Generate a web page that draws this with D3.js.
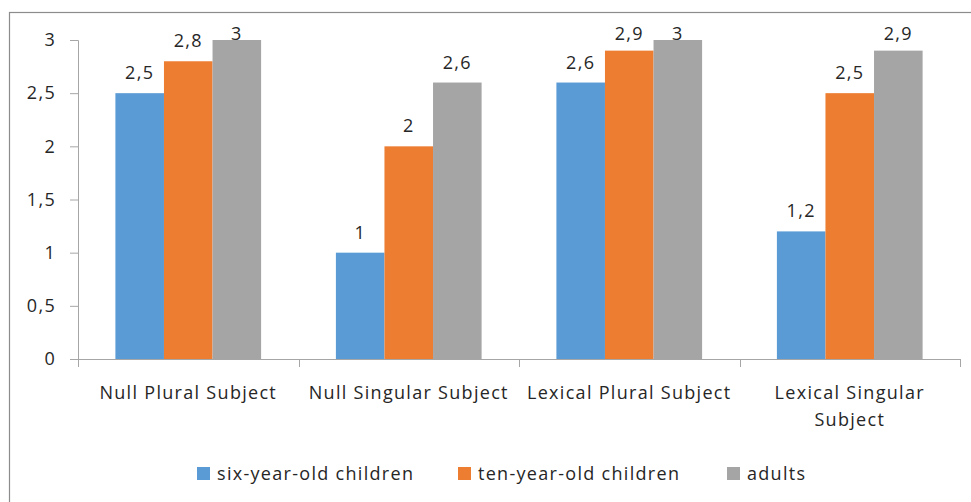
<!DOCTYPE html>
<html><head><meta charset="utf-8">
<script src="https://cdn.jsdelivr.net/npm/d3@7/dist/d3.min.js"></script>
<style>
body{margin:0;background:#fff;}
svg text{font-family:"Open Sans",sans-serif;fill:#262626;letter-spacing:1.3px;}
</style></head>
<body><svg id="c" width="971" height="502"></svg>
<script>
const categories = [["Null Plural Subject"], ["Null Singular Subject"], ["Lexical Plural Subject"], ["Lexical Singular", "Subject"]];
const seriesNames = ["six-year-old children", "ten-year-old children", "adults"];
const sixYear = [2.5, 1, 2.6, 1.2];
const tenYear = [2.8, 2, 2.9, 2.5];
const adults = [3, 2.6, 3, 2.9];
const yTicks = [0, 0.5, 1, 1.5, 2, 2.5, 3];
const colors = ["#5B9BD5", "#ED7D31", "#A5A5A5"];
const series = [sixYear, tenYear, adults];

const svg = d3.select("#c");
svg.append("rect").attr("x", 9.5).attr("y", 12.5).attr("width", 1000).attr("height", 600)
  .attr("fill", "none").attr("stroke", "#8c8c8c").attr("stroke-width", 1.2);

const mLeft = 78, mRight = 960, mTop = 40, mBottom = 359;
const FS = 18;
const x0 = d3.scaleBand().domain(d3.range(categories.length)).range([mLeft, mRight]).paddingInner(0).paddingOuter(0);
const x1 = d3.scaleBand().domain(d3.range(series.length)).range([0, x0.bandwidth()]).paddingInner(0).paddingOuter(0.77);
const y = d3.scaleLinear().domain([0, 3]).range([mBottom, mTop]);
const fmt = v => String(v).replace(".", ",");

// y axis
const ya = svg.append("g").attr("transform", `translate(${mLeft},0)`)
  .call(d3.axisLeft(y).tickValues(yTicks).tickFormat(fmt).tickSize(8).tickPadding(14));
ya.select(".domain").attr("stroke", "#a6a6a6").attr("d", `M-8,${mTop}.5H0.5V${mBottom}.5`);
ya.selectAll(".tick line").attr("stroke", "#a6a6a6");
ya.selectAll(".tick text").attr("font-size", FS).attr("fill", "#262626").style("font-family", "'Open Sans',sans-serif");

// bars
const g = svg.append("g");
series.forEach((s, si) => {
  g.selectAll(null).data(s).enter().append("rect")
    .attr("x", (d, i) => x0(i) + x1(si))
    .attr("y", d => y(d))
    .attr("width", x1.bandwidth())
    .attr("height", d => y(0) - y(d))
    .attr("fill", colors[si]);
  g.selectAll(null).data(s).enter().append("text")
    .attr("x", (d, i) => x0(i) + x1(si) + x1.bandwidth() / 2)
    .attr("y", d => Math.max(y(d) - 14, mTop))
    .attr("text-anchor", "middle").attr("font-size", FS)
    .text(d => fmt(d));
});

// x axis
const xa = svg.append("g").attr("transform", `translate(0,${mBottom})`);
xa.append("path").attr("d", `M${mLeft},0.5H${mRight}`).attr("stroke", "#a6a6a6").attr("fill", "none");
const tickXs = d3.range(categories.length + 1).map(i => i < categories.length ? x0(i) : mRight);
xa.selectAll(null).data(tickXs).enter().append("line")
  .attr("x1", d => Math.round(d) + 0.5).attr("x2", d => Math.round(d) + 0.5)
  .attr("y1", 0).attr("y2", 8).attr("stroke", "#a6a6a6");
categories.forEach((lines, i) => {
  const t = svg.append("text").attr("text-anchor", "middle").attr("font-size", FS)
    .attr("x", x0(i) + x0.bandwidth() / 2).attr("y", 399);
  lines.forEach((l, k) => t.append("tspan").attr("x", x0(i) + x0.bandwidth() / 2).attr("dy", k ? 27 : 0).text(l));
});

// legend
const legX = [197, 458, 727];
seriesNames.forEach((n, i) => {
  svg.append("rect").attr("x", legX[i]).attr("y", 467).attr("width", 13).attr("height", 13).attr("fill", colors[i]);
  svg.append("text").attr("x", legX[i] + 20).attr("y", 480).attr("font-size", FS).text(n);
});
</script></body></html>
